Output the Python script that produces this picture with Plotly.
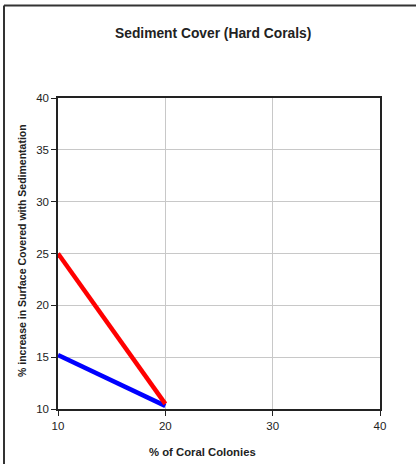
import plotly.graph_objects as go

x_vals = [10, 20]
red_vals = [25, 10.5]
blue_vals = [15.2, 10.3]
x_ticks = [10, 20, 30, 40]
y_ticks = [10, 15, 20, 25, 30, 35, 40]

W, H = 416, 464
L, R, T, B = 58, 36, 98, 55
pw, ph = W - L - R, H - T - B

def px(x):
    return (x - L) / pw

def py(y):
    return (H - B - y) / ph

fig = go.Figure()
fig.add_trace(go.Scatter(x=x_vals, y=blue_vals, mode="lines",
                         line=dict(color="#0000FF", width=4.5), showlegend=False))
fig.add_trace(go.Scatter(x=x_vals, y=red_vals, mode="lines",
                         line=dict(color="#FF0000", width=4.5), showlegend=False))

font = "Liberation Sans, Arial, sans-serif"
axis_common = dict(showgrid=True, gridcolor="#c8c8c8", gridwidth=1,
                   showline=True, linecolor="#222", linewidth=1.5, mirror=True,
                   ticks="outside", ticklen=5, tickcolor="#222", zeroline=False,
                   tickfont=dict(family=font, size=11.5, color="#222"))
fig.update_xaxes(range=[10, 40], tickvals=x_ticks, **axis_common)
fig.update_yaxes(range=[10, 40], tickvals=y_ticks, **axis_common)

fig.update_layout(
    width=W, height=H,
    margin=dict(l=L, r=R, t=T, b=B, pad=0),
    paper_bgcolor="white", plot_bgcolor="white",
    font=dict(family=font, color="#222"),
    annotations=[
        dict(text="<b>Sediment Cover (Hard Corals)</b>", xref="paper", yref="paper",
             x=px(213), y=py(33), showarrow=False, font=dict(size=13.8, family=font, color="#222"),
             xanchor="center", yanchor="middle"),
        dict(text="<b>% of Coral Colonies</b>", xref="paper", yref="paper",
             x=px(202), y=py(452), showarrow=False, font=dict(size=11.3, family=font, color="#222"),
             xanchor="center", yanchor="middle"),
        dict(text="<b>% increase in Surface Covered with Sedimentation</b>", xref="paper", yref="paper",
             x=px(22), y=py(251), showarrow=False, textangle=-90,
             font=dict(size=10.5, family=font, color="#222"),
             xanchor="center", yanchor="middle"),
    ],
    shapes=[
        dict(type="line", xref="paper", yref="paper", x0=px(4), x1=px(4), y0=py(470), y1=py(5.5),
             line=dict(color="#333", width=2)),
        dict(type="line", xref="paper", yref="paper", x0=px(4), x1=px(420), y0=py(5.5), y1=py(5.5),
             line=dict(color="#333", width=2)),
    ],
)

fig.write_html("out.html", config={"displayModeBar": False},
               post_script="document.body.style.margin='0';document.body.style.overflow='hidden';")
